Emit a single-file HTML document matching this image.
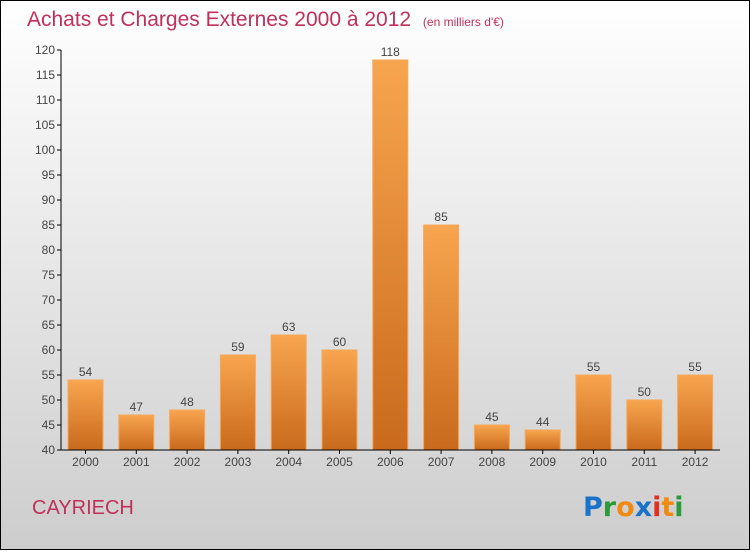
<!DOCTYPE html>
<html><head><meta charset="utf-8"><style>
body{margin:0;width:750px;height:550px;overflow:hidden;font-family:"Liberation Sans",sans-serif}
</style></head><body>
<svg id="c" width="750" height="550" xmlns="http://www.w3.org/2000/svg">
<defs>
<linearGradient id="bg" x1="0" y1="0" x2="0" y2="1"><stop offset="0" stop-color="#ffffff"/><stop offset="1" stop-color="#cdcdcd"/></linearGradient>
<linearGradient id="bar" x1="0" y1="0" x2="0" y2="1"><stop offset="0" stop-color="#f8a54f"/><stop offset="1" stop-color="#c96a1c"/></linearGradient>
</defs>
<rect x="0.5" y="0.5" width="749" height="549" fill="url(#bg)" stroke="#000"/>
<text x="27" y="26" font-size="21" fill="#c0305a">Achats et Charges Externes 2000 à 2012 <tspan font-size="12" dx="6">(en milliers d'€)</tspan></text>
<g id="yaxis"></g>
<g id="bars"></g>
<line x1="61" y1="50" x2="61" y2="450" stroke="#000"/>
<line x1="61" y1="450" x2="720" y2="450" stroke="#000"/>
<text x="32" y="514" font-size="20" fill="#c0305a">CAYRIECH</text>
<text x="583" y="516" font-size="27" font-weight="bold" font-family="'DejaVu Sans',sans-serif"><tspan fill="#1a73c8">P</tspan><tspan fill="#2a9a3a">r</tspan><tspan fill="#f08a10">o</tspan><tspan fill="#1a73c8">x</tspan><tspan fill="#e03020">i</tspan><tspan fill="#f08a10">t</tspan><tspan fill="#2a9a3a">i</tspan></text>
</svg>
<script>
const years=["2000","2001","2002","2003","2004","2005","2006","2007","2008","2009","2010","2011","2012"];
const values=[54,47,48,59,63,60,118,85,45,44,55,50,55];
const yTicks=[40,45,50,55,60,65,70,75,80,85,90,95,100,105,110,115,120];
const NS="http://www.w3.org/2000/svg";
const y=v=>450-(v-40)*5;
const x=i=>85.5+i*50.8;
function mk(t,a,p){const e=document.createElementNS(NS,t);for(const k in a)e.setAttribute(k,a[k]);p.appendChild(e);return e;}
const ya=document.getElementById('yaxis');
yTicks.forEach(t=>{
 const l=mk('line',{x1:57,x2:61,y1:y(t),y2:y(t),stroke:'#000'},ya);
 
 
 const tx=mk('text',{x:55,y:y(t)+4,'text-anchor':'end','font-size':12,fill:'#444'},ya);
 tx.textContent=t;
 
 
});
const bg=document.getElementById('bars');
values.forEach((v,i)=>{
 const r=mk('rect',{x:x(i)-17.5,y:y(v),width:35,height:450-y(v),fill:'url(#bar)',stroke:'#f6a85a','stroke-width':1},bg);
 
 
 const vl=mk('text',{x:x(i),y:y(v)-4,'text-anchor':'middle','font-size':12,fill:'#444'},bg);
 vl.textContent=v;
 
 
 const xl=mk('text',{x:x(i),y:466,'text-anchor':'middle','font-size':12,fill:'#444'},bg);
 xl.textContent=years[i];
 
 
 const tk=mk('line',{x1:x(i),x2:x(i),y1:450,y2:454,stroke:'#000'},bg);
 
 
});
</script>
</body></html>
